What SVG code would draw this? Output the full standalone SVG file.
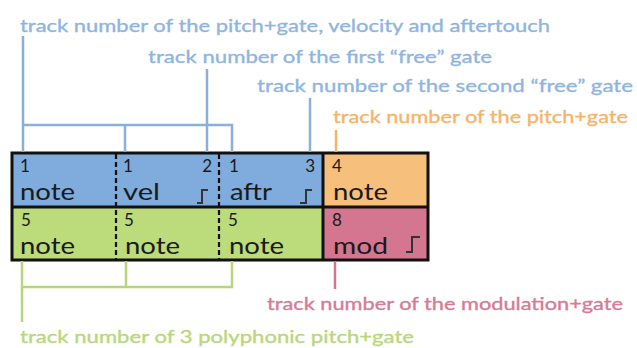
<svg xmlns="http://www.w3.org/2000/svg" width="637" height="348" viewBox="0 0 637 348">
<style>
text{font-family:Lato,"Liberation Sans",sans-serif}
.lbl{font-size:18px;stroke-width:0.35}
.b{fill:#8fb5df;stroke:#8fb5df}.o{fill:#f5b46a;stroke:#f5b46a}.p{fill:#d57b94;stroke:#d57b94}.g{fill:#b9d77b;stroke:#b9d77b}
.num{font-size:17px;fill:#1a1a1a}
.word{font-size:24px;fill:#1a1a1a}
.lb{stroke:#8aafd9}.lo{stroke:#f2b56e}.lp{stroke:#d27590}.lg{stroke:#b6d57a}
.ln{fill:none;stroke-width:2.5}
.gate{fill:none;stroke:#333;stroke-width:2}
.dash{stroke:#111;stroke-width:2.2;stroke-dasharray:5 3}
</style>
<rect width="637" height="348" fill="#fff"/>
<g id="cell-note1">
<rect x="12" y="153" width="104" height="54" fill="#80abdd"/>
<text class="num" x="20" y="172">1</text><text class="word" x="20" y="200" textLength="55" lengthAdjust="spacingAndGlyphs">note</text>
</g>
<g id="cell-vel">
<rect x="116" y="153" width="103" height="54" fill="#80abdd"/>
<text class="num" x="123" y="172">1</text><text class="num" x="212" y="172" text-anchor="end">2</text>
<text class="word" x="123" y="200" textLength="37" lengthAdjust="spacingAndGlyphs">vel</text>
<path class="gate" d="M197,203H202V190H208"/>
</g>
<g id="cell-aftr">
<rect x="219" y="153" width="104" height="54" fill="#80abdd"/>
<text class="num" x="229" y="172">1</text><text class="num" x="315" y="172" text-anchor="end">3</text>
<text class="word" x="230" y="200" textLength="42" lengthAdjust="spacingAndGlyphs">aftr</text>
<path class="gate" d="M300,203H306V190H312"/>
</g>
<g id="cell-note4">
<rect x="323" y="153" width="105" height="54" fill="#f6bf7c"/>
<text class="num" x="332" y="172">4</text><text class="word" x="333" y="200" textLength="55" lengthAdjust="spacingAndGlyphs">note</text>
</g>
<g id="cell-poly1">
<rect x="12" y="207" width="104" height="53" fill="#bcdb7b"/>
<text class="num" x="21" y="226">5</text><text class="word" x="20" y="254" textLength="55" lengthAdjust="spacingAndGlyphs">note</text>
</g>
<g id="cell-poly2">
<rect x="116" y="207" width="103" height="53" fill="#bcdb7b"/>
<text class="num" x="124" y="226">5</text><text class="word" x="125" y="254" textLength="55" lengthAdjust="spacingAndGlyphs">note</text>
</g>
<g id="cell-poly3">
<rect x="219" y="207" width="104" height="53" fill="#bcdb7b"/>
<text class="num" x="228" y="226">5</text><text class="word" x="229" y="254" textLength="55" lengthAdjust="spacingAndGlyphs">note</text>
</g>
<g id="cell-mod">
<rect x="323" y="207" width="105" height="53" fill="#d4768f"/>
<text class="num" x="332" y="226">8</text><text class="word" x="333" y="254" textLength="55" lengthAdjust="spacingAndGlyphs">mod</text>
<path class="gate" d="M406,252H412V237H420"/>
</g>
<g id="grid">
<line class="dash" x1="116" y1="154" x2="116" y2="259"/>
<line class="dash" x1="219" y1="154" x2="219" y2="259"/>
<line x1="323" y1="153" x2="323" y2="260" stroke="#111" stroke-width="3"/>
<line x1="12" y1="207" x2="428" y2="207" stroke="#111" stroke-width="3"/>
<rect x="12" y="153" width="416" height="107" fill="none" stroke="#111" stroke-width="3"/>
</g>
<g id="connectors">
<path class="ln lb" d="M23,36V152M23,125H232V152M125,125V152M207,69V152M310,98V152"/>
<path class="ln lo" d="M336,130V152"/>
<path class="ln lp" d="M335,261V289"/>
<path class="ln lg" d="M22,261V322M22,287H232V261M126,287V261"/>
</g>
<g id="labels">
<text class="lbl b" x="20" y="32" textLength="530" lengthAdjust="spacingAndGlyphs">track number of the pitch+gate, velocity and aftertouch</text>
<text class="lbl b" x="148" y="63" textLength="344" lengthAdjust="spacingAndGlyphs">track number of the first “free” gate</text>
<text class="lbl b" x="257" y="92" textLength="376" lengthAdjust="spacingAndGlyphs">track number of the second “free” gate</text>
<text class="lbl o" x="333" y="123" textLength="295" lengthAdjust="spacingAndGlyphs">track number of the pitch+gate</text>
<text class="lbl p" x="267" y="310" textLength="356" lengthAdjust="spacingAndGlyphs">track number of the modulation+gate</text>
<text class="lbl g" x="20" y="343" textLength="394" lengthAdjust="spacingAndGlyphs">track number of 3 polyphonic pitch+gate</text>
</g>
</svg>
